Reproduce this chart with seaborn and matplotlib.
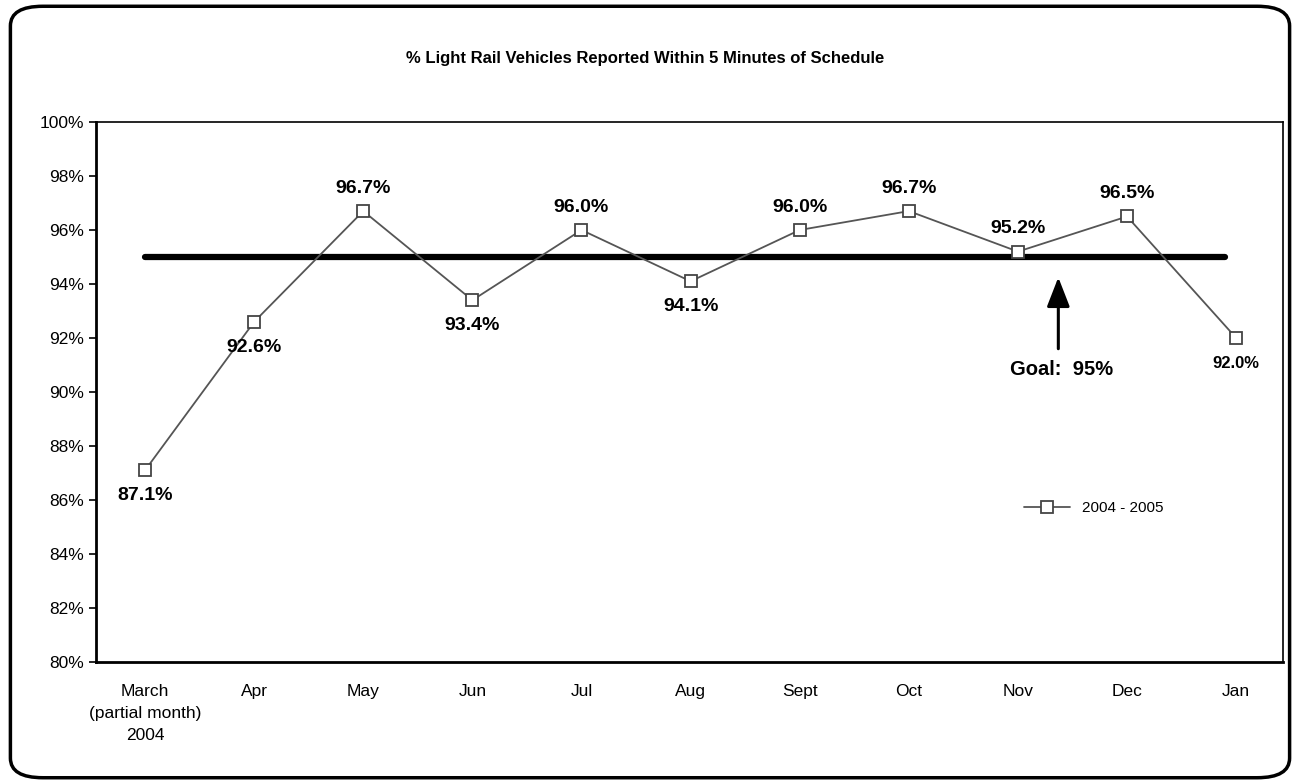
import pandas as pd
import matplotlib.pyplot as plt
import seaborn as sns
from matplotlib.patches import FancyBboxPatch
from matplotlib.ticker import FuncFormatter

# data
months = ["March\n(partial month)\n2004", "Apr", "May", "Jun", "Jul", "Aug",
          "Sept", "Oct", "Nov", "Dec", "Jan"]
on_time = [87.1, 92.6, 96.7, 93.4, 96.0, 94.1, 96.0, 96.7, 95.2, 96.5, 92.0]
label_above = [False, False, True, False, True, False, True, True, True, True, False]
goal = 95

df = pd.DataFrame({"month": months, "pct": on_time})

sns.set_style("white")
plt.rcParams["font.family"] = ["Liberation Sans", "DejaVu Sans"]
plt.rcParams["text.color"] = "black"
plt.rcParams["xtick.color"] = "black"
plt.rcParams["ytick.color"] = "black"

fig = plt.figure(figsize=(13, 7.84), dpi=100)
ax = fig.add_axes([0.0738, 0.1556, 0.9132, 0.6888])

sns.lineplot(data=df, x="month", y="pct", ax=ax, color="#555555", lw=1.3,
             marker="s", markersize=9, markerfacecolor="white",
             markeredgecolor="#444444", markeredgewidth=1.3,
             label="2004 - 2005", sort=False)

# goal line
ax.plot([0, 9.9], [goal, goal], color="black", lw=4.5, solid_capstyle="round", zorder=1)

for i, (v, up) in enumerate(zip(on_time, label_above)):
    dy = 0.85 if up else -0.95
    ax.text(i, v + dy, f"{v:.1f}%", ha="center", va="center",
            fontsize=14 if i < 10 else 12, fontweight="bold")

ax.annotate("", xy=(8.37, 94.35), xytext=(8.37, 91.5),
            arrowprops=dict(arrowstyle="-|>,head_width=0.7,head_length=1.8",
                            color="black", lw=2.2))
ax.text(8.40, 90.85, "Goal:  95%", ha="center", va="center",
        fontsize=14.5, fontweight="bold")

ax.set_ylim(80, 100)
ax.set_xlim(-0.45, 10.43)
ax.set_yticks(range(80, 101, 2))
ax.yaxis.set_major_formatter(FuncFormatter(lambda v, p: f"{v:.0f}%"))
ax.tick_params(axis="y", left=True, length=5, width=1.2, labelsize=12.5, direction="out")
ax.tick_params(axis="x", bottom=False, labelsize=12.5, pad=12)
for t in ax.get_xticklabels():
    t.set_linespacing(1.6)
ax.set_xlabel("")
ax.set_ylabel("")
for s in ["left", "bottom"]:
    ax.spines[s].set_linewidth(2)
for s in ["top", "right"]:
    ax.spines[s].set_linewidth(1.2)
for s in ax.spines.values():
    s.set_color("black")

leg = ax.legend(loc="center left", bbox_to_anchor=(0.77, 0.285), frameon=False,
                fontsize=11, handlelength=3)

fig.text(0.496, 0.926, "% Light Rail Vehicles Reported Within 5 Minutes of Schedule",
         ha="center", va="center", fontsize=12, fontweight="bold")

frame = FancyBboxPatch((0.008, 0.008), 0.984, 0.984, boxstyle="round,pad=0,rounding_size=0.025",
                       transform=fig.transFigure, fill=False, lw=2.5, ec="black")
fig.patches.append(frame)

fig.savefig("out.png", dpi=100)
